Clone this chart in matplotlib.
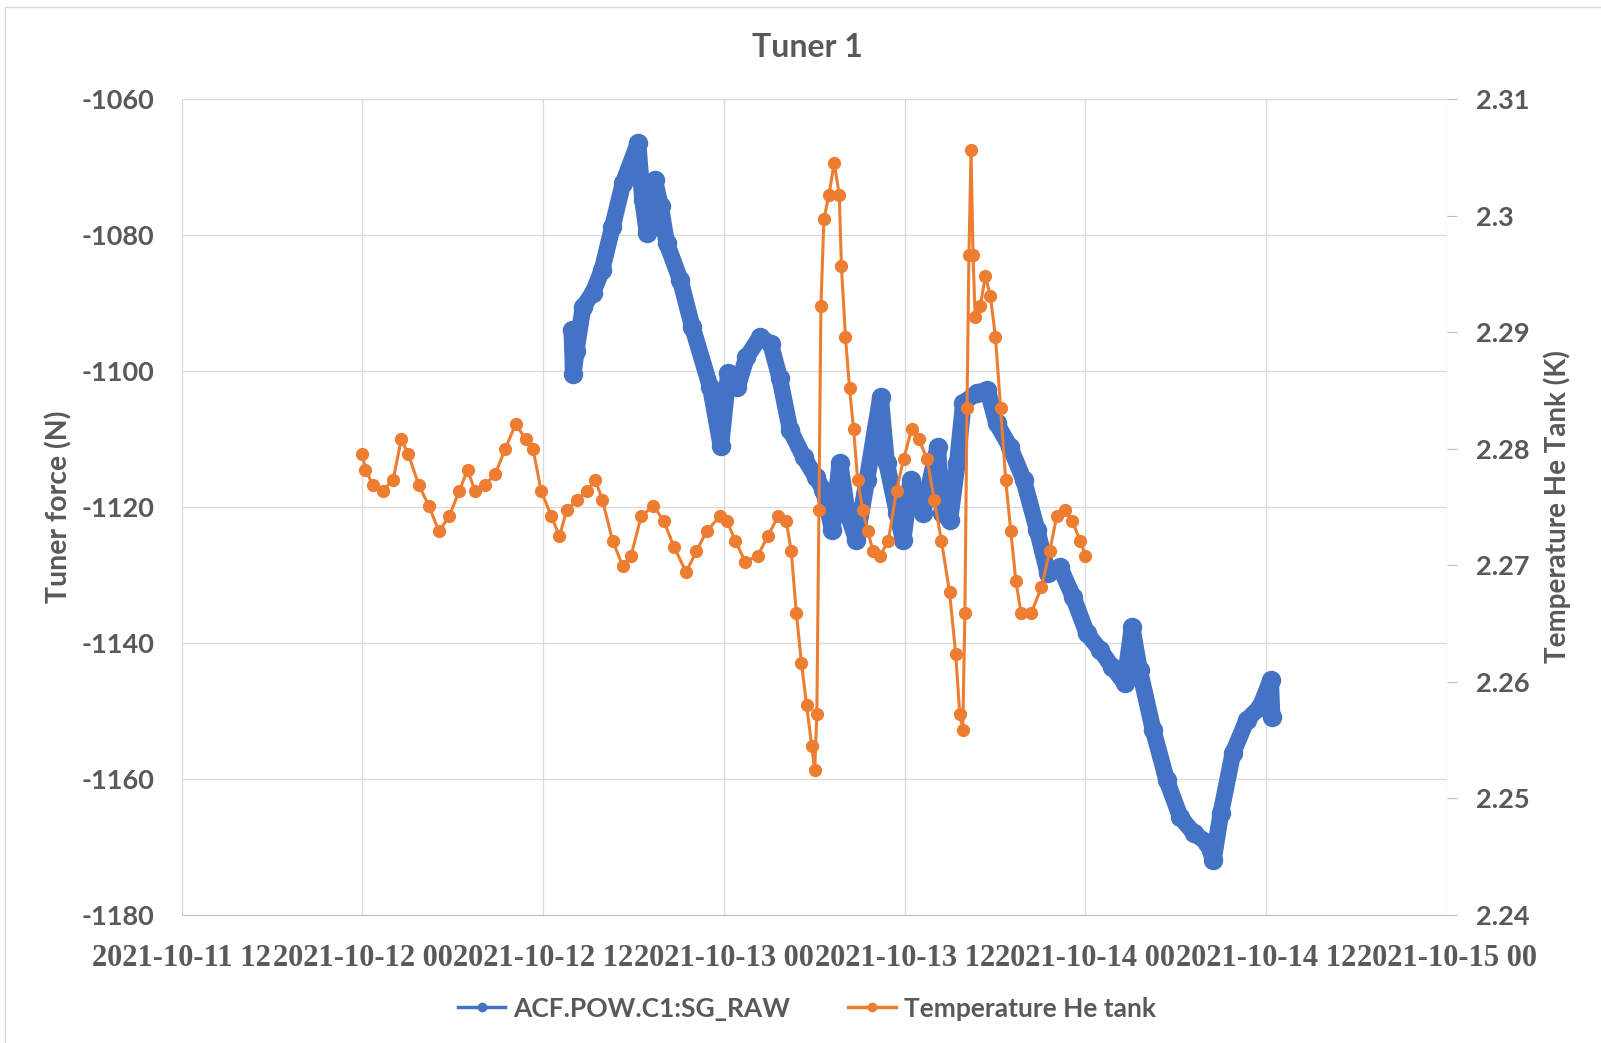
import matplotlib.pyplot as plt
import matplotlib.dates as mdates
import matplotlib.ticker as mticker
import pandas as pd
from matplotlib.lines import Line2D

plt.rcParams['axes.unicode_minus'] = False

t0 = pd.Timestamp("2021-10-11 12:00")

# hours after 2021-10-11 12:00
force_hours = [25.9, 26.0, 26.2, 26.65, 27.3, 27.9, 28.6, 29.3, 30.3, 30.6,
               30.9, 31.4, 31.8, 32.2, 33.1, 33.9, 35.1, 35.8, 36.3, 36.9,
               37.5, 38.4, 39.1, 39.7, 40.4, 41.3, 42.1, 42.6, 43.2, 43.7,
               44.2, 44.8, 45.5, 46.4, 46.8, 47.5, 47.9, 48.4, 49.2, 50.2,
               50.5, 51.0, 51.5, 51.9, 52.8, 53.5, 54.1, 55.0, 55.9, 56.8,
               57.5, 58.3, 59.2, 60.1, 61.0, 61.8, 62.6, 63.1, 63.6, 64.5,
               65.4, 66.3, 67.2, 68.1, 68.5, 69.0, 69.8, 70.7, 71.6, 72.3,
               72.4]
force_values = [-1094, -1100.5, -1097, -1090.6, -1088.5, -1085.2, -1078.8, -1072.4, -1066.5, -1074.9,
                -1079.7, -1071.9, -1075.8, -1081.2, -1086.6, -1093.5, -1102.4, -1111.0, -1100.3, -1102.4,
                -1098, -1095, -1096, -1101, -1108.7, -1112.7, -1115.6, -1117.5, -1123.4, -1113.5,
                -1120.9, -1124.9, -1116, -1103.8, -1113.5, -1120.9, -1124.9, -1116, -1120.9, -1111.2,
                -1120.9, -1122, -1113.5, -1104.7, -1103.2, -1102.8, -1107.7, -1111.2, -1116, -1123.4,
                -1129.7, -1128.8, -1133.3, -1138.6, -1141.1, -1143.6, -1145.9, -1137.7, -1144, -1152.8,
                -1160.2, -1165.6, -1168, -1169.4, -1172, -1165, -1156.2, -1151.4, -1149.4, -1145.5,
                -1150.9]

temp_hours = [12.0, 12.2, 12.68, 13.36, 14.03, 14.58, 15.05, 15.73, 16.41, 17.08,
              17.76, 18.44, 18.98, 19.46, 20.14, 20.81, 21.49, 22.17, 22.85, 23.32,
              23.86, 24.54, 25.08, 25.56, 26.24, 26.92, 27.46, 27.93, 28.61, 29.29,
              29.83, 30.51, 31.32, 32.0, 32.68, 33.49, 34.17, 34.85, 35.73, 36.2,
              36.75, 37.42, 38.24, 38.92, 39.59, 40.14, 40.47, 40.81, 41.15, 41.49,
              41.83, 42.03, 42.17, 42.31, 42.44, 42.64, 42.98, 43.32, 43.66, 43.8,
              44.07, 44.34, 44.61, 44.88, 45.22, 45.56, 45.9, 46.37, 46.92, 47.46,
              47.93, 48.47, 48.95, 49.49, 49.97, 50.44, 50.98, 51.39, 51.66, 51.86,
              52.0, 52.14, 52.27, 52.41, 52.54, 52.68, 53.02, 53.36, 53.69, 54.03,
              54.37, 54.71, 55.05, 55.39, 55.73, 56.41, 57.08, 57.63, 58.1, 58.64,
              59.12, 59.66, 60.0]
temp_values = [2.2795, 2.2782, 2.2769, 2.2764, 2.2773, 2.2808, 2.2795, 2.2769, 2.2751, 2.2729,
               2.2742, 2.2764, 2.2782, 2.2764, 2.2769, 2.2778, 2.2800, 2.2821, 2.2808, 2.2800,
               2.2764, 2.2742, 2.2725, 2.2747, 2.2756, 2.2764, 2.2773, 2.2756, 2.2721, 2.2699,
               2.2708, 2.2742, 2.2751, 2.2738, 2.2716, 2.2694, 2.2712, 2.2729, 2.2742, 2.2738,
               2.2721, 2.2703, 2.2708, 2.2725, 2.2742, 2.2738, 2.2712, 2.2659, 2.2616, 2.2580,
               2.2545, 2.2524, 2.2572, 2.2747, 2.2922, 2.2997, 2.3018, 2.3045, 2.3018, 2.2957,
               2.2896, 2.2852, 2.2817, 2.2773, 2.2747, 2.2729, 2.2712, 2.2708, 2.2721, 2.2764,
               2.2791, 2.2817, 2.2808, 2.2791, 2.2756, 2.2721, 2.2677, 2.2624, 2.2572, 2.2559,
               2.2659, 2.2835, 2.2966, 2.3056, 2.2966, 2.2913, 2.2922, 2.2948, 2.2931, 2.2896,
               2.2835, 2.2773, 2.2729, 2.2686, 2.2659, 2.2659, 2.2681, 2.2712, 2.2742, 2.2747,
               2.2738, 2.2721, 2.2708]

x_start = "2021-10-11 12:00"
x_end = "2021-10-15 00:00"

blue = '#4472C4'
orange = '#ED7D31'
grey_txt = '#595959'
grid_c = '#d9d9d9'

force_time = t0 + pd.to_timedelta(force_hours, unit='h')
temp_time = t0 + pd.to_timedelta(temp_hours, unit='h')

fig = plt.figure(figsize=(16.01, 10.43), dpi=100)
ax = fig.add_axes([0.1135, 0.1229, 0.7902, 0.7822])
ax2 = ax.twinx()

ax.plot(force_time, force_values, color=blue, lw=12, marker='o', ms=13,
        solid_joinstyle='round', solid_capstyle='round')
ax2.plot(temp_time, temp_values, color=orange, lw=2.2, marker='o', ms=8.5)

ax.set_xlim(pd.Timestamp(x_start), pd.Timestamp(x_end))
ax.set_ylim(-1180, -1060)
ax2.set_ylim(2.24, 2.31)
ax.yaxis.set_major_locator(mticker.MultipleLocator(20))
ax2.yaxis.set_major_locator(mticker.MultipleLocator(0.01))
ax2.yaxis.set_major_formatter(mticker.FuncFormatter(lambda v, p: f"{round(v, 2):g}"))
ax.xaxis.set_major_locator(mdates.HourLocator(byhour=[0, 12]))
ax.xaxis.set_major_formatter(mdates.DateFormatter('%Y-%m-%d %H'))

ax.grid(True, color=grid_c, lw=0.9)
ax.set_axisbelow(True)
for a in (ax, ax2):
    for s in a.spines.values():
        s.set_visible(False)
ax.spines['bottom'].set_visible(True)
ax.spines['bottom'].set_color('#bfbfbf')

ax.tick_params(axis='y', length=0, pad=20, labelsize=19.5, labelcolor=grey_txt)
ax.tick_params(axis='x', length=0, pad=21, labelsize=22, labelcolor=grey_txt)
ax2.tick_params(axis='y', length=7, color='#bfbfbf', pad=14, labelsize=19.5, labelcolor=grey_txt)
for lab in ax.get_yticklabels() + ax2.get_yticklabels():
    lab.set_fontfamily('Lato')
    lab.set_fontweight('bold')
for lab in ax.get_xticklabels():
    lab.set_fontfamily('Liberation Serif')
    lab.set_fontweight('bold')

fig.text(0.504, 0.954, "Tuner 1", ha='center', va='center', fontsize=23,
         fontweight='bold', family='Lato', color=grey_txt)
fig.text(0.0369, 0.514, "Tuner force (N)", rotation=90, ha='center', va='center',
         fontsize=20.5, fontweight='bold', family='Lato', color=grey_txt)
fig.text(0.9725, 0.514, "Temperature He Tank (K)", rotation=90, ha='center', va='center',
         fontsize=20, fontweight='bold', family='Lato', color=grey_txt)

handles = [Line2D([], [], color=blue, lw=2.5, marker='o', ms=6),
           Line2D([], [], color=orange, lw=2.5, marker='o', ms=6)]
fig.legend(handles, ["ACF.POW.C1:SG_RAW", "Temperature He tank"], loc='center',
           bbox_to_anchor=(0.504, 0.033), ncol=2, frameon=False, handlelength=1.8,
           columnspacing=2.2, handletextpad=0.3,
           prop={'family': 'Lato', 'weight': 'bold', 'size': 19})
for t in fig.legends[0].get_texts():
    t.set_color(grey_txt)

# chart area border
fig.add_artist(Line2D([0.003, 0.003], [0.0, 0.993], color=grid_c, lw=1))
fig.add_artist(Line2D([0.003, 1.0], [0.993, 0.993], color=grid_c, lw=1))

fig.savefig('out.png', dpi=100)
